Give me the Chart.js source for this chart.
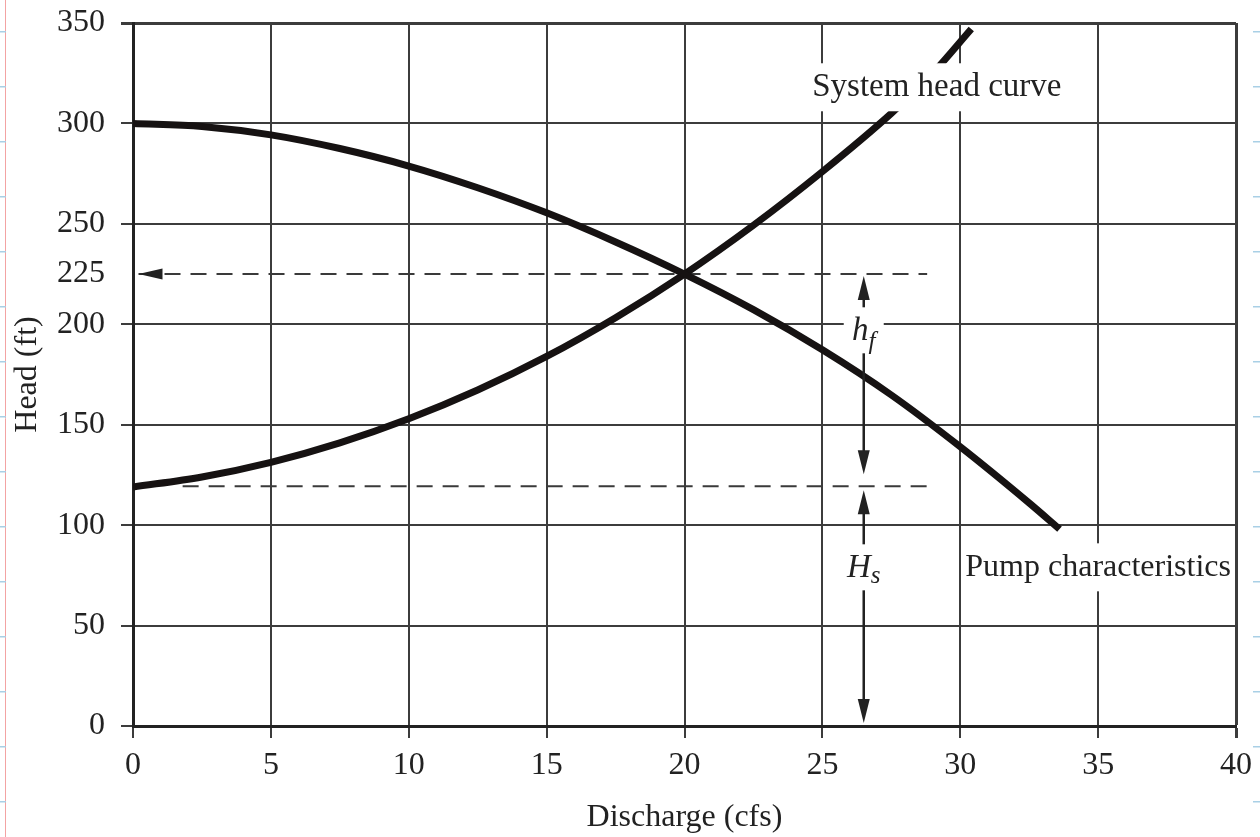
<!DOCTYPE html>
<html>
<head>
<meta charset="utf-8">
<title>Pump and system head curves</title>
<script src="https://cdn.jsdelivr.net/npm/chart.js@4/dist/chart.umd.min.js"></script>
<style>
  html, body { margin: 0; padding: 0; background: #fff; }
</style>
</head>
<body>
<canvas id="chart-area" width="1260" height="837"></canvas>
<script>
// discharge (cfs) against head (ft) along each curve
var pumpQ    = [0, 2.5, 5, 7.5, 10, 12.5, 15, 17.5, 20, 22.5, 25, 27.5, 30, 32.5, 33.6];
var pumpHead = [300, 298.5, 294.3, 287.5, 278.8, 268, 255.5, 241, 225, 207.3, 187.3, 164.8, 139, 111, 98];

var systemQ    = [0, 2.5, 5, 7.5, 10, 12.5, 15, 17.5, 20, 22.5, 25, 27.5, 29, 30.4];
var systemHead = [119, 124, 131.3, 141, 153, 167.3, 184, 203.3, 225, 249.3, 276, 305, 325, 347];

var yTickValues = [0, 50, 100, 150, 200, 225, 250, 300, 350];

var operatingHead = 225;   // where the curves cross
var staticHead = 119.4;    // H_s, head at zero discharge
var dimensionQ = 26.5;     // discharge where the h_f / H_s arrows stand
var guideStart = [0.2, 1.8];
var guideEnd = 28.8;

var ink = '#222';
var gridInk = '#3c3c3c';
var serif = '"Liberation Serif", "Times New Roman", serif';

function pairs(xs, ys) {
  return xs.map(function(x, i) { return { x: x, y: ys[i] }; });
}

function arrowHead(ctx, x, y, dx, dy, len, half) {
  ctx.beginPath();
  ctx.moveTo(x, y);
  ctx.lineTo(x - dx * len - dy * half, y - dy * len + dx * half);
  ctx.lineTo(x - dx * len + dy * half, y - dy * len - dx * half);
  ctx.closePath();
  ctx.fill();
}

// notebook margin behind the figure
var paper = {
  id: 'paper',
  beforeDraw: function(chart) {
    var ctx = chart.ctx;
    ctx.save();
    ctx.fillStyle = '#fff';
    ctx.fillRect(0, 0, chart.width, chart.height);
    ctx.strokeStyle = '#f3a3a3';
    ctx.lineWidth = 1;
    ctx.beginPath();
    ctx.moveTo(5.5, 0);
    ctx.lineTo(5.5, chart.height);
    ctx.stroke();
    ctx.strokeStyle = '#a9d0e6';
    ctx.lineWidth = 1.5;
    for (var y = 31.7; y < chart.height; y += 55) {
      ctx.beginPath();
      ctx.moveTo(0, y); ctx.lineTo(6, y);
      ctx.moveTo(1253, y); ctx.lineTo(1260, y);
      ctx.stroke();
    }
    ctx.restore();
  }
};

// dimension arrows and text labels drawn over the curves
var notes = {
  id: 'notes',
  afterDatasetsDraw: function(chart) {
    var ctx = chart.ctx, xs = chart.scales.x, ys = chart.scales.y;
    var px = xs.getPixelForValue(dimensionQ);
    var yOp = ys.getPixelForValue(operatingHead);
    var ySt = ys.getPixelForValue(staticHead);
    var y0 = ys.getPixelForValue(0);

    ctx.save();
    ctx.fillStyle = ink;
    ctx.strokeStyle = ink;
    ctx.lineWidth = 2.5;

    // arrow back to the head axis on the operating-head guide
    arrowHead(ctx, xs.getPixelForValue(guideStart[0]), yOp, -1, 0, 24, 5.5);

    // h_f between the two guides, H_s down to zero
    var segs = [[yOp + 2, ySt - 12], [ySt + 4, y0 - 3]];
    segs.forEach(function(s) {
      ctx.beginPath();
      ctx.moveTo(px, s[0] + 10);
      ctx.lineTo(px, s[1] - 10);
      ctx.stroke();
      arrowHead(ctx, px, s[0], 0, -1, 24, 6);
      arrowHead(ctx, px, s[1], 0, 1, 24, 6);
    });

    function box(cx, cy, w, h) {
      ctx.fillStyle = '#fff';
      ctx.fillRect(cx - w / 2, cy - h / 2, w, h);
      ctx.fillStyle = ink;
    }

    // subscripted symbols
    var syms = [
      { main: 'h', sub: 'f', h: 197, drop: 9 },
      { main: 'H', sub: 's', h: 79, drop: 6 }
    ];
    syms.forEach(function(s) {
      var cy = ys.getPixelForValue(s.h);
      box(px, cy, 40, 46);
      ctx.font = 'italic 33px ' + serif;
      var wm = ctx.measureText(s.main).width;
      ctx.font = 'italic 25px ' + serif;
      var ws = ctx.measureText(s.sub).width;
      var left = px - (wm + ws) / 2;
      ctx.textBaseline = 'alphabetic';
      ctx.textAlign = 'left';
      ctx.font = 'italic 33px ' + serif;
      ctx.fillText(s.main, left, cy + 10);
      ctx.font = 'italic 25px ' + serif;
      ctx.fillText(s.sub, left + wm, cy + 10 + s.drop);
    });

    // curve names
    var names = [
      { text: 'System head curve', q: 29.15, h: 318, size: 33 },
      { text: 'Pump characteristics', q: 35.0, h: 79, size: 32 }
    ];
    ctx.textAlign = 'center';
    ctx.textBaseline = 'middle';
    names.forEach(function(n) {
      ctx.font = n.size + 'px ' + serif;
      var cx = xs.getPixelForValue(n.q), cy = ys.getPixelForValue(n.h);
      var w = ctx.measureText(n.text).width + 6;
      box(cx, cy, w, 48);
      ctx.fillText(n.text, cx, cy);
    });
    ctx.restore();
  }
};

window.onload = function() {
  var ctx = document.getElementById('chart-area').getContext('2d');
  var curve = {
    borderColor: '#161212',
    borderWidth: 7,
    pointRadius: 0,
    fill: false,
    cubicInterpolationMode: 'monotone'
  };
  var guide = {
    borderColor: '#3a3a3a',
    borderWidth: 2,
    borderDash: [16, 10],
    pointRadius: 0,
    fill: false
  };
  var config = {
    type: 'line',
    data: {
      datasets: [
        Object.assign({ label: 'Pump characteristics', data: pairs(pumpQ, pumpHead) }, curve),
        Object.assign({ label: 'System head curve', data: pairs(systemQ, systemHead) }, curve),
        Object.assign({ label: 'Operating head',
          data: pairs([guideStart[0], guideEnd], [operatingHead, operatingHead]) }, guide),
        Object.assign({ label: 'Static head',
          data: pairs([guideStart[1], guideEnd], [staticHead, staticHead]) }, guide)
      ]
    },
    options: {
      responsive: false,
      animation: false,
      devicePixelRatio: 1,
      layout: { padding: { top: 23, right: 24, bottom: 0, left: 0 } },
      plugins: {
        legend: { display: false },
        tooltip: { enabled: false }
      },
      scales: {
        x: {
          type: 'linear',
          min: 0,
          max: 40,
          afterFit: function(scale) {
            scale.height = 111;
            scale.paddingLeft = 0;
            scale.paddingRight = 0;
          },
          ticks: {
            stepSize: 5,
            color: ink,
            padding: 8,
            font: { family: serif, size: 32 }
          },
          grid: {
            color: gridInk,
            tickColor: gridInk,
            lineWidth: function(c) { return c.tick && c.tick.value === 40 ? 3 : 2; },
            tickLength: 12
          },
          border: { color: ink, width: 3 },
          title: {
            display: true,
            text: 'Discharge (cfs)',
            color: ink,
            padding: { top: 0, bottom: 0 },
            font: { family: serif, size: 32 }
          }
        },
        y: {
          type: 'linear',
          min: 0,
          max: 350,
          afterFit: function(scale) {
            scale.width = 133;
            scale.paddingTop = 0;
            scale.paddingBottom = 0;
          },
          afterBuildTicks: function(scale) {
            scale.ticks = yTickValues.map(function(v) { return { value: v }; });
          },
          ticks: {
            color: ink,
            padding: 16,
            font: { family: serif, size: 32 }
          },
          grid: {
            color: function(c) { return c.tick && c.tick.value === operatingHead ? 'rgba(0,0,0,0)' : gridInk; },
            tickColor: function(c) { return c.tick && c.tick.value === operatingHead ? 'rgba(0,0,0,0)' : gridInk; },
            lineWidth: function(c) { return c.tick && c.tick.value === 350 ? 3 : 2; },
            tickLength: 12
          },
          border: { color: ink, width: 3 },
          title: {
            display: true,
            text: 'Head (ft)',
            color: ink,
            padding: { top: 8, bottom: 0 },
            font: { family: serif, size: 32 }
          }
        }
      }
    },
    plugins: [paper, notes]
  };
  window.pumpChart = new Chart(ctx, config);
};
</script>
</body>
</html>
